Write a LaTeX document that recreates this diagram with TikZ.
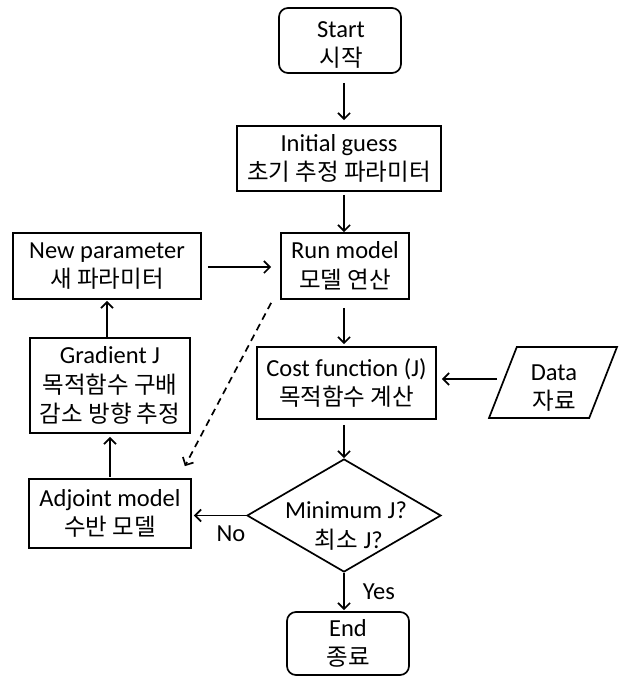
\documentclass[tikz,border=0pt]{standalone}
\usepackage{fontspec}
\setmainfont{Carlito}
\newfontfamily\kr{Noto Sans CJK KR}
\usetikzlibrary{arrows.meta,shapes.geometric}
\begin{document}
\begin{tikzpicture}[x=1pt,y=-1pt,
  line width=1.7pt,
  txt/.style={font=\fontsize{24.5}{29.5}\selectfont},
  box/.style={draw,rectangle,inner sep=0pt,align=center,txt},
  term/.style={box,rounded corners=9pt},
  arr/.style={-{Straight Barb[length=6pt,width=12pt,line width=1.7pt]}},
  lbl/.style={txt,inner sep=0pt}]
\newcommand{\ko}[1]{{\kr\fontsize{23.5}{29.5}\selectfont #1}}
\useasboundingbox (0,0) rectangle (621,676);
\node[term,minimum width=122pt,minimum height=65pt] (start) at (340,40.5) {};
\node[lbl,align=center] (startt) at (341,45) {Start\\\ko{시작}};
\node[box,minimum width=204pt,minimum height=65pt] (init) at (339,158.5) {Initial guess\\\ko{초기 추정 파라미터}};
\node[box,minimum width=128pt,minimum height=66pt] (run) at (345,266) {Run model\\\ko{모델 연산}};
\node[box,minimum width=188pt,minimum height=66pt] (newp) at (107,266) {New parameter\\\ko{새 파라미터}};
\node[box,minimum width=160pt,minimum height=95pt] (grad) at (110,385.5) {Gradient J\\\ko{목적함수 구배}\\\ko{감소 방향 추정}};
\node[box,minimum width=162pt,minimum height=69pt] (adj) at (110,513.5) {Adjoint model\\\ko{수반 모델}};
\node[box,minimum width=179pt,minimum height=72pt] (cost) at (346.5,383) {Cost function (J)\\\ko{목적함수 계산}};
\node[draw,trapezium,trapezium left angle=69,trapezium right angle=111,trapezium stretches=true,
  minimum width=128pt,minimum height=71pt,inner sep=2pt] (data) at (553,382.5) {};
\node[lbl,align=center] (datat) at (554,388) {Data\\\ko{자료}};
\node[draw,diamond,minimum width=194pt,minimum height=113pt,inner sep=1pt] (dec) at (344,515.5) {};
\node[lbl,align=center] (dect) at (346,526) {Minimum J?\\\ \ko{최소} J?};
\node[term,minimum width=122pt,minimum height=63pt] (end) at (348,643.5) {End\\\ko{종료}};
% connectors
\draw[arr,shorten <=9pt,shorten >=5pt] (start.south -| dec.north) -- (init.north -| dec.north);
\draw[arr,shorten <=3pt] (init.south -| dec.north) -- (run.north -| dec.north);
\draw[arr,shorten <=8pt,shorten >=2pt] (run.south -| dec.north) -- (cost.north -| dec.north);
\draw[arr,shorten <=5pt] (cost.south -| dec.north) -- (dec.north);
\draw[arr,shorten >=1pt] (dec.south) -- (end.north -| dec.south) node[lbl,pos=0.5,right=18pt] (yes) {Yes};
\draw[arr,shorten >=2pt] (dec.west) -- (adj.east |- dec.west) node[lbl,pos=0.28,below=9pt] (no) {No};
\draw[arr,shorten <=1pt,shorten >=3pt] (adj.north) -- (grad.south);
\draw[arr,shorten >=1pt] (grad.north -| newp.south) -- (newp.south);
\draw[arr,shorten <=6pt,shorten >=9pt] (newp.east |- 0,267) -- (run.west |- 0,267);
\draw[arr,shorten <=0pt,shorten >=5pt] (497,379) coordinate (dl) -- (cost.east |- dl);
\draw[arr,dashed,dash pattern=on 7pt off 5pt] ([shift={(-9,3)}]run.south west) -- ([shift={(-7,-12)}]adj.north east);
\end{tikzpicture}
\end{document}
